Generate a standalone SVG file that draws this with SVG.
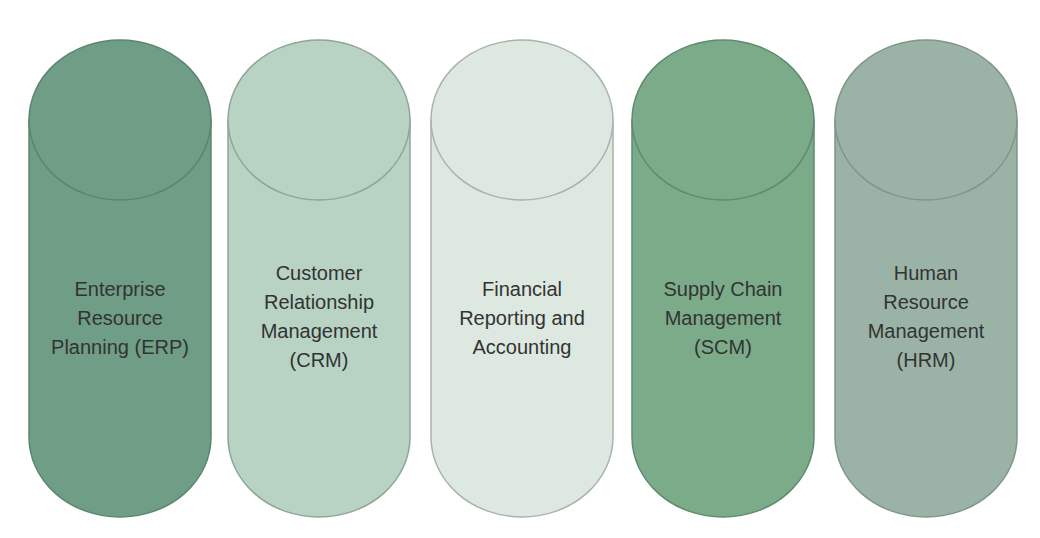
<svg xmlns="http://www.w3.org/2000/svg" width="1040" height="538" viewBox="0 0 1040 538">
<style>
.b{stroke-width:1.5}
.t{font-family:"Liberation Sans",Arial,sans-serif;font-size:20px;fill:#333;text-anchor:middle}
</style>
<rect width="1040" height="538" fill="#fff"/>
<g id="erp">
<path class="b" d="M29,120 V437 A91,80 0 0 0 211,437 V120 Z" fill="#6f9d86" stroke="#5a8670"/>
<ellipse class="b" cx="120" cy="120" rx="91" ry="80" fill="#6f9d86" stroke="#5a8670"/>
<text class="t" x="120" y="296">Enterprise</text><text class="t" x="120" y="325">Resource</text><text class="t" x="120" y="354">Planning (ERP)</text>
</g>
<g id="crm">
<path class="b" d="M228,120 V437 A91,80 0 0 0 410,437 V120 Z" fill="#b8d2c4" stroke="#8fa598"/>
<ellipse class="b" cx="319" cy="120" rx="91" ry="80" fill="#b8d2c4" stroke="#8fa598"/>
<text class="t" x="319" y="280">Customer</text><text class="t" x="319" y="309">Relationship</text><text class="t" x="319" y="338">Management</text><text class="t" x="319" y="367">(CRM)</text>
</g>
<g id="fin">
<path class="b" d="M431,120 V437 A91,80 0 0 0 613,437 V120 Z" fill="#dde8e1" stroke="#a8b3ac"/>
<ellipse class="b" cx="522" cy="120" rx="91" ry="80" fill="#dde8e1" stroke="#a8b3ac"/>
<text class="t" x="522" y="296">Financial</text><text class="t" x="522" y="325">Reporting and</text><text class="t" x="522" y="354">Accounting</text>
</g>
<g id="scm">
<path class="b" d="M632,120 V437 A91,80 0 0 0 814,437 V120 Z" fill="#7bab89" stroke="#5f8a6c"/>
<ellipse class="b" cx="723" cy="120" rx="91" ry="80" fill="#7bab89" stroke="#5f8a6c"/>
<text class="t" x="723" y="296">Supply Chain</text><text class="t" x="723" y="325">Management</text><text class="t" x="723" y="354">(SCM)</text>
</g>
<g id="hrm">
<path class="b" d="M835,120 V437 A91,80 0 0 0 1017,437 V120 Z" fill="#9bb3a6" stroke="#7f9688"/>
<ellipse class="b" cx="926" cy="120" rx="91" ry="80" fill="#9bb3a6" stroke="#7f9688"/>
<text class="t" x="926" y="280">Human</text><text class="t" x="926" y="309">Resource</text><text class="t" x="926" y="338">Management</text><text class="t" x="926" y="367">(HRM)</text>
</g>
<g id="connectors"/>
</svg>
